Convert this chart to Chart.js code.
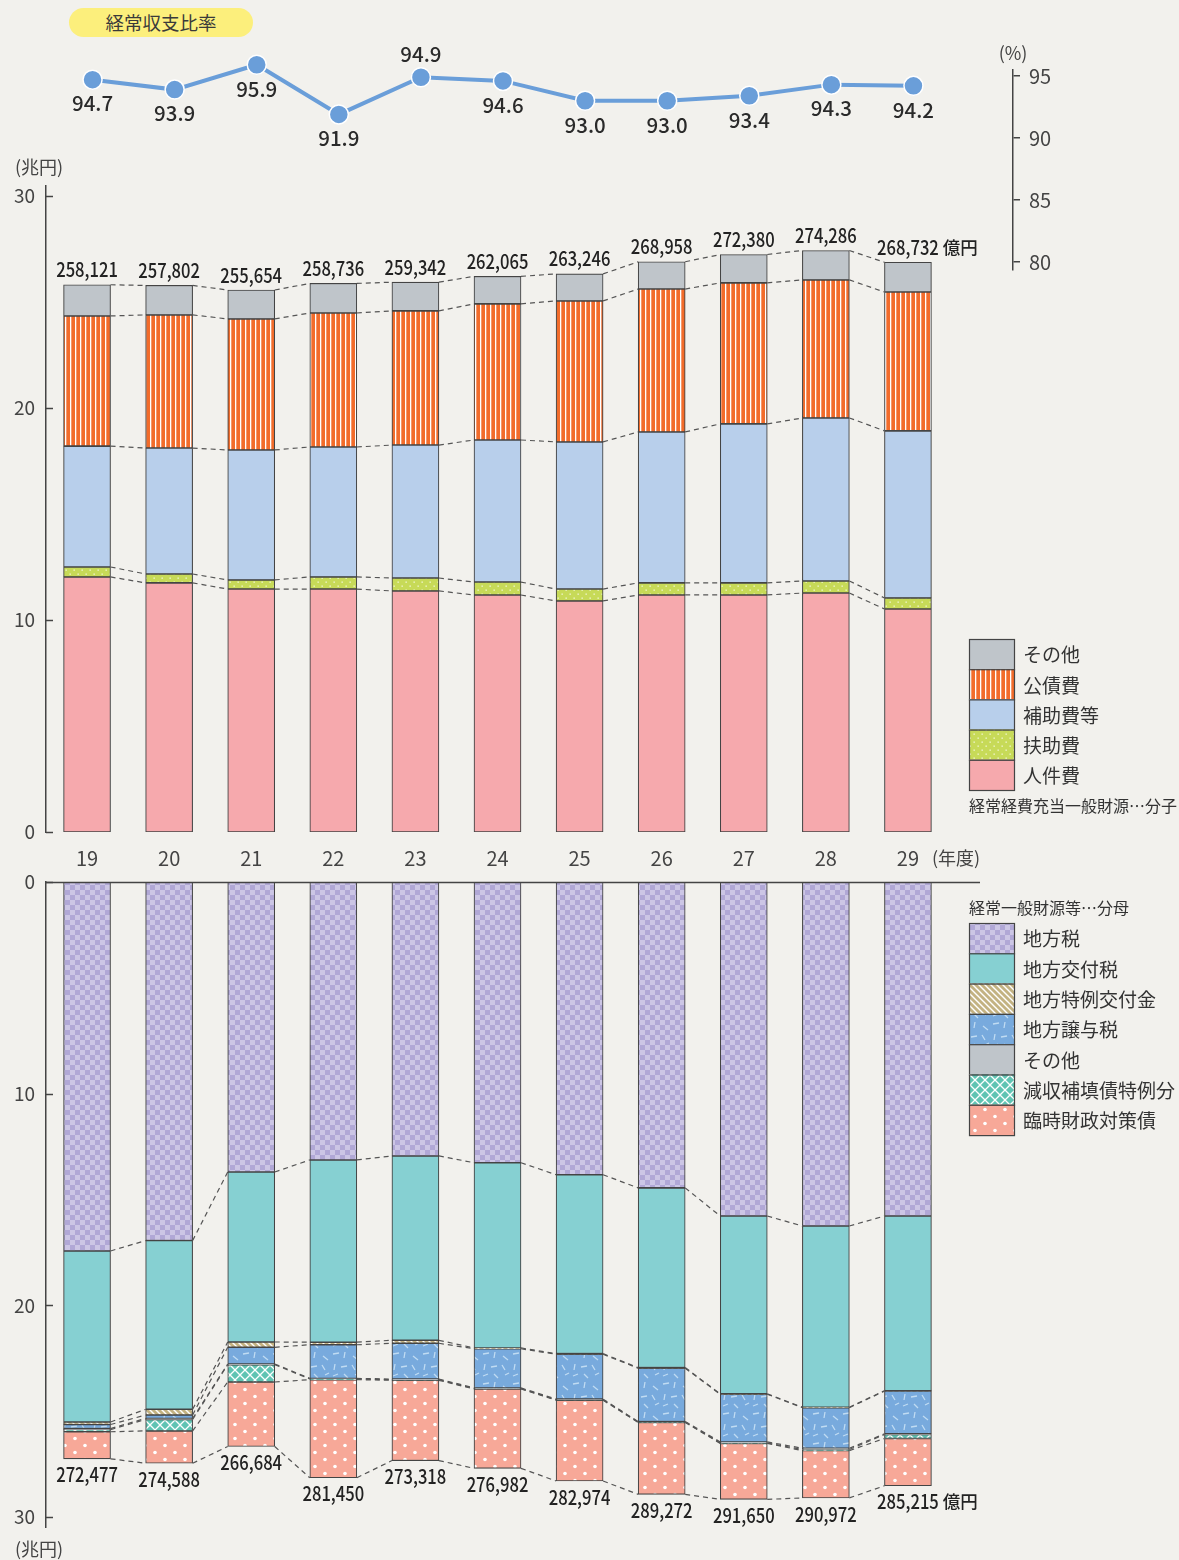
<!DOCTYPE html>
<html lang="ja">
<head>
<meta charset="utf-8">
<title>経常収支比率の推移</title>
<script src="https://cdn.jsdelivr.net/npm/chart.js@4.4.1/dist/chart.umd.min.js"></script>
<style>
  html, body { margin: 0; padding: 0; background: #f2f1ed; }
  #wrap { position: relative; width: 1179px; height: 1560px; font-family: "Noto Sans CJK JP", "Noto Sans", sans-serif; }
  canvas { position: absolute; left: 0; top: 0; }
  .pill { position: absolute; left: 69px; top: 8px; width: 184px; height: 29px; border-radius: 15px;
          background: #fcef7c; color: #3a3a3a; font-size: 18.5px; line-height: 29px; text-align: center; }
</style>
</head>
<body>
<div id="wrap">
  <div class="pill">経常収支比率</div>
  <canvas id="denChart" width="1179" height="1560"></canvas>
  <canvas id="numChart" width="1179" height="1560"></canvas>
  <canvas id="ratioChart" width="1179" height="1560"></canvas>
</div>
<script>
const FONT = '"Noto Sans CJK JP", "Noto Sans", sans-serif';

const years = ["19", "20", "21", "22", "23", "24", "25", "26", "27", "28", "29"];

// 経常収支比率 (%)
const ratio = [94.7, 93.9, 95.9, 91.9, 94.9, 94.6, 93.0, 93.0, 93.4, 94.3, 94.2];
const ratioTicks = [80, 85, 90, 95];
const ratioLabelAbove = [4];

// 分子: 経常経費充当一般財源 (兆円)
const jinkenhi = [12.03, 11.75, 11.46, 11.46, 11.37, 11.18, 10.90, 11.18, 11.18, 11.27, 10.52];
const fujohi = [0.47, 0.42, 0.43, 0.57, 0.61, 0.61, 0.56, 0.57, 0.57, 0.57, 0.52];
const hojohi = [5.70, 5.94, 6.13, 6.13, 6.27, 6.70, 6.94, 7.12, 7.50, 7.69, 7.88];
const kosaihi = [6.14, 6.28, 6.18, 6.32, 6.33, 6.42, 6.65, 6.74, 6.65, 6.51, 6.55];
const sonotaNum = [1.472, 1.390, 1.365, 1.394, 1.354, 1.297, 1.275, 1.286, 1.338, 1.389, 1.403];
const numTotal = [258121, 257802, 255654, 258736, 259342, 262065, 263246, 268958, 272380, 274286, 268732];

// 分母: 経常一般財源等 (兆円)
const chihozei = [17.43, 16.94, 13.70, 13.13, 12.94, 13.26, 13.83, 14.45, 15.78, 16.25, 15.78];
const kofuzei = [8.08, 7.97, 8.03, 8.61, 8.71, 8.75, 8.45, 8.49, 8.40, 8.56, 8.25];
const tokureiKofukin = [0.12, 0.27, 0.25, 0.12, 0.14, 0.04, 0.03, 0.03, 0.02, 0.02, 0.02];
const joyozei = [0.19, 0.16, 0.79, 1.59, 1.69, 1.85, 2.12, 2.52, 2.25, 1.92, 2.02];
const sonotaDen = [0.05, 0.05, 0.03, 0.03, 0.03, 0.03, 0.03, 0.02, 0.05, 0.06, 0.03];
const genshu = [0.10, 0.54, 0.82, 0.03, 0.03, 0.02, 0.02, 0.02, 0.02, 0.05, 0.19];
const rinji = [1.278, 1.529, 3.048, 4.635, 3.792, 3.748, 3.817, 3.397, 2.645, 2.237, 2.232];
const denTotal = [272477, 274588, 266684, 281450, 273318, 276982, 282974, 289272, 291650, 290972, 285215];

const yenTicks = [0, 10, 20, 30];

Chart.defaults.font.family = FONT;
Chart.defaults.color = '#444';

// ---- fill patterns ----
function makePattern(w, h, base, draw) {
  const c = document.createElement('canvas');
  c.width = w; c.height = h;
  const g = c.getContext('2d');
  g.fillStyle = base;
  g.fillRect(0, 0, w, h);
  draw(g, w, h);
  return g.createPattern(c, 'repeat');
}

const patSmallDots = makePattern(8, 8, '#c7da58', g => {
  g.fillStyle = 'rgba(255,255,255,0.8)';
  g.fillRect(1.5, 1.5, 1.3, 1.3);
  g.fillRect(5.5, 5.5, 1.3, 1.3);
});
const patVStripes = makePattern(5, 4, '#f26c2b', g => {
  g.fillStyle = '#ffffff';
  g.fillRect(0, 0, 1.3, 4);
});
const patChecker = makePattern(10, 10, '#b1a8d6', g => {
  g.fillStyle = '#ccc6e5';
  g.fillRect(0, 0, 5, 5);
  g.fillRect(5, 5, 5, 5);
});
const patDiag = makePattern(6, 6, '#c3b282', g => {
  g.strokeStyle = '#ffffff';
  g.lineWidth = 1.4;
  g.beginPath();
  g.moveTo(-1, -1); g.lineTo(7, 7);
  g.moveTo(-4, 2); g.lineTo(2, 8);
  g.moveTo(4, -2); g.lineTo(8, 2);
  g.stroke();
});
const patDashes = makePattern(30, 30, '#78aadd', g => {
  g.strokeStyle = 'rgba(205,228,246,0.85)';
  g.lineWidth = 1.3;
  const segs = [[3, 4, 9, 3], [15, 2, 14, 8], [23, 6, 28, 10], [5, 14, 4, 20], [11, 17, 17, 16],
                [22, 15, 25, 20], [3, 26, 8, 24], [14, 24, 18, 28], [25, 25, 29, 23]];
  g.beginPath();
  segs.forEach(s => { g.moveTo(s[0], s[1]); g.lineTo(s[2], s[3]); });
  g.stroke();
});
const patLattice = makePattern(10, 10, '#60c4b3', g => {
  g.strokeStyle = '#ffffff';
  g.lineWidth = 1.3;
  g.beginPath();
  g.moveTo(0, 5); g.lineTo(5, 0); g.lineTo(10, 5); g.lineTo(5, 10); g.closePath();
  g.stroke();
});
const patBigDots = makePattern(20, 14, '#f7a898', g => {
  g.fillStyle = '#ffffff';
  [[5, 3.5], [15, 10.5]].forEach(p => { g.beginPath(); g.arc(p[0], p[1], 1.8, 0, Math.PI * 2); g.fill(); });
});

// ---- shared plugins ----
const innerTicks = {
  id: 'innerTicks',
  afterDraw(chart) {
    const s = chart.scales.y, ctx = chart.ctx;
    ctx.save();
    ctx.strokeStyle = '#444';
    ctx.lineWidth = 1.5;
    s.ticks.forEach(t => {
      const py = Math.round(s.getPixelForValue(t.value)) + 0.5;
      ctx.beginPath();
      ctx.moveTo(s.right, py);
      ctx.lineTo(s.right + 7, py);
      ctx.stroke();
    });
    ctx.restore();
  }
};

const connectors = {
  id: 'connectors',
  afterDatasetsDraw(chart) {
    const ctx = chart.ctx, ys = chart.scales.y;
    const n = chart.data.labels.length;
    const sums = new Array(n).fill(0);
    ctx.save();
    ctx.setLineDash([5, 4]);
    ctx.strokeStyle = '#555';
    ctx.lineWidth = 1.2;
    chart.data.datasets.forEach((ds, k) => {
      const meta = chart.getDatasetMeta(k);
      ds.data.forEach((v, i) => { sums[i] += v; });
      for (let i = 0; i < n - 1; i++) {
        const a = meta.data[i], b = meta.data[i + 1];
        ctx.beginPath();
        ctx.moveTo(a.x + a.width / 2, ys.getPixelForValue(sums[i]));
        ctx.lineTo(b.x - b.width / 2, ys.getPixelForValue(sums[i + 1]));
        ctx.stroke();
      }
    });
    ctx.restore();
  }
};

function drawNumber(ctx, text, x, y) {
  ctx.save();
  ctx.translate(x, y);
  ctx.scale(0.83, 1);
  ctx.fillText(text, 0, 0);
  ctx.restore();
}

function totalLabels(totals, offset) {
  return {
    id: 'totalLabels',
    afterDatasetsDraw(chart) {
      const ctx = chart.ctx, ys = chart.scales.y;
      const meta = chart.getDatasetMeta(0);
      ctx.save();
      ctx.fillStyle = '#222';
      ctx.textAlign = 'center';
      ctx.textBaseline = 'middle';
      totals.forEach((t, i) => {
        let sum = 0;
        chart.data.datasets.forEach(ds => { sum += ds.data[i]; });
        const x = meta.data[i].x;
        const y = ys.getPixelForValue(sum) + offset;
        const txt = t.toLocaleString('en-US');
        ctx.font = '500 20px ' + FONT;
        drawNumber(ctx, txt, x, y);
        if (i === totals.length - 1) {
          const w = ctx.measureText(txt).width * 0.83;
          ctx.font = '500 17.5px ' + FONT;
          ctx.textAlign = 'left';
          ctx.fillText('億円', x + w / 2 + 4, y);
          ctx.textAlign = 'center';
        }
      });
      ctx.restore();
    }
  };
}

function sideLegend(opts) {
  return {
    id: 'sideLegend',
    afterDraw(chart) {
      const ctx = chart.ctx;
      const list = opts.reverse ? [...chart.data.datasets].reverse() : chart.data.datasets;
      ctx.save();
      list.forEach((ds, j) => {
        const y = opts.top + j * opts.row;
        ctx.fillStyle = ds.backgroundColor;
        ctx.fillRect(opts.left, y, 45, opts.row);
        ctx.strokeStyle = '#444';
        ctx.lineWidth = 1.2;
        ctx.strokeRect(opts.left + 0.5, y + 0.5, 45, opts.row);
        ctx.fillStyle = '#333';
        ctx.font = '19px ' + FONT;
        ctx.textAlign = 'left';
        ctx.textBaseline = 'middle';
        ctx.fillText(ds.label, opts.left + 54, y + opts.row / 2 + 1);
      });
      ctx.font = '16px ' + FONT;
      ctx.fillStyle = '#333';
      ctx.textBaseline = 'middle';
      ctx.fillText(opts.caption, opts.left, opts.captionY);
      ctx.restore();
    }
  };
}

function unitLabel(text, x, y) {
  return {
    id: 'unitLabel',
    afterDraw(chart) {
      const ctx = chart.ctx;
      ctx.save();
      ctx.fillStyle = '#444';
      ctx.font = '18px ' + FONT;
      ctx.textAlign = 'left';
      ctx.textBaseline = 'middle';
      ctx.fillText(text, x, y);
      ctx.restore();
    }
  };
}

const barDefaults = { borderColor: '#444', borderWidth: 1.1, borderSkipped: false, barThickness: 47 };

// ---- 分子 ----
const yearSuffix = {
  id: 'yearSuffix',
  afterDraw(chart) {
    const xs = chart.scales.x, ctx = chart.ctx;
    const lastX = xs.getPixelForTick(years.length - 1);
    ctx.save();
    ctx.fillStyle = '#444';
    ctx.font = '18px ' + FONT;
    ctx.textAlign = 'left';
    ctx.textBaseline = 'middle';
    ctx.fillText('(年度)', lastX + 24, 858);
    ctx.restore();
  }
};

new Chart(document.getElementById('numChart'), {
  type: 'bar',
  data: {
    labels: years,
    datasets: [
      { label: '人件費', data: jinkenhi, backgroundColor: '#f6a9ad', ...barDefaults },
      { label: '扶助費', data: fujohi, backgroundColor: patSmallDots, ...barDefaults },
      { label: '補助費等', data: hojohi, backgroundColor: '#b8cfeb', ...barDefaults },
      { label: '公債費', data: kosaihi, backgroundColor: patVStripes, ...barDefaults },
      { label: 'その他', data: sonotaNum, backgroundColor: '#bfc5ca', ...barDefaults }
    ]
  },
  options: {
    responsive: false,
    animation: false,
    layout: { padding: { left: 0, top: 186, right: 230, bottom: 688 } },
    plugins: { legend: { display: false }, tooltip: { enabled: false } },
    scales: {
      x: {
        stacked: true,
        grid: { display: false, drawTicks: false },
        border: { display: false },
        ticks: { color: '#444', font: { size: 20 }, padding: 14 },
        afterFit: s => { s.height = 40; }
      },
      y: {
        stacked: true,
        min: 0,
        max: 30.47,
        afterBuildTicks: s => { s.ticks = yenTicks.map(v => ({ value: v })); },
        afterFit: s => { s.width = 46; },
        grid: { display: false, drawTicks: false },
        border: { color: '#444', width: 1.5 },
        ticks: { color: '#444', font: { size: 19 }, padding: 11 }
      }
    }
  },
  plugins: [innerTicks, connectors, totalLabels(numTotal, -15), yearSuffix,
            unitLabel('(兆円)', 15, 167),
            sideLegend({ left: 969, top: 639, row: 30.2, reverse: true, caption: '経常経費充当一般財源…分子', captionY: 806 })]
});

// ---- 分母 ----
const zeroLine = {
  id: 'zeroLine',
  afterDraw(chart) {
    const ys = chart.scales.y, ctx = chart.ctx;
    const py = Math.round(ys.getPixelForValue(0)) + 0.5;
    ctx.save();
    ctx.strokeStyle = '#444';
    ctx.lineWidth = 1.3;
    ctx.beginPath();
    ctx.moveTo(chart.chartArea.left, py);
    ctx.lineTo(980, py);
    ctx.stroke();
    ctx.restore();
  }
};

new Chart(document.getElementById('denChart'), {
  type: 'bar',
  data: {
    labels: years,
    datasets: [
      { label: '地方税', data: chihozei, backgroundColor: patChecker, ...barDefaults },
      { label: '地方交付税', data: kofuzei, backgroundColor: '#86d0d2', ...barDefaults },
      { label: '地方特例交付金', data: tokureiKofukin, backgroundColor: patDiag, ...barDefaults },
      { label: '地方譲与税', data: joyozei, backgroundColor: patDashes, ...barDefaults },
      { label: 'その他', data: sonotaDen, backgroundColor: '#bfc5ca', ...barDefaults },
      { label: '減収補填債特例分', data: genshu, backgroundColor: patLattice, ...barDefaults },
      { label: '臨時財政対策債', data: rinji, backgroundColor: patBigDots, ...barDefaults }
    ]
  },
  options: {
    responsive: false,
    animation: false,
    layout: { padding: { left: 0, top: 882, right: 230, bottom: 33 } },
    plugins: { legend: { display: false }, tooltip: { enabled: false } },
    scales: {
      x: { stacked: true, display: false },
      y: {
        stacked: true,
        reverse: true,
        min: 0,
        max: 30.47,
        afterBuildTicks: s => { s.ticks = yenTicks.map(v => ({ value: v })); },
        afterFit: s => { s.width = 46; },
        grid: { display: false, drawTicks: false },
        border: { color: '#444', width: 1.5 },
        ticks: { color: '#444', font: { size: 19 }, padding: 11 }
      }
    }
  },
  plugins: [innerTicks, connectors, zeroLine, totalLabels(denTotal, 16),
            unitLabel('(兆円)', 15, 1549),
            sideLegend({ left: 969, top: 923, row: 30.3, reverse: false, caption: '経常一般財源等…分母', captionY: 908 })]
});

// ---- 経常収支比率 ----
// markers sit slightly right of the bar centres
const catWidth = (949 - 46) / years.length;
const ratioXMin = -0.5 - 5.5 / catWidth;
const ratioXMax = ratioXMin + (1013 - 46) / catWidth;

const ratioLabels = {
  id: 'ratioLabels',
  afterDatasetsDraw(chart) {
    const ctx = chart.ctx, meta = chart.getDatasetMeta(0);
    ctx.save();
    ctx.fillStyle = '#2a2a2a';
    ctx.font = '500 20.5px ' + FONT;
    ctx.textAlign = 'center';
    ctx.textBaseline = 'middle';
    ratio.forEach((v, i) => {
      const p = meta.data[i];
      const dy = ratioLabelAbove.includes(i) ? -23 : 24;
      ctx.fillText(v.toFixed(1), p.x, p.y + dy);
    });
    ctx.font = '18px ' + FONT;
    ctx.fillStyle = '#444';
    ctx.fillText('(%)', chart.chartArea.right, 53);
    ctx.restore();
  }
};

new Chart(document.getElementById('ratioChart'), {
  type: 'line',
  data: {
    datasets: [{
      data: ratio.map((v, i) => ({ x: i, y: v })),
      borderColor: '#6a9ed9',
      borderWidth: 4,
      pointRadius: 9.5,
      pointBackgroundColor: '#6a9ed9',
      pointBorderColor: '#ffffff',
      pointBorderWidth: 1.5,
      tension: 0,
      clip: false
    }]
  },
  options: {
    responsive: false,
    animation: false,
    layout: { padding: { left: 46, top: 70, right: 0, bottom: 1290 } },
    plugins: { legend: { display: false }, tooltip: { enabled: false } },
    scales: {
      x: { type: 'linear', display: false, min: ratioXMin, max: ratioXMax },
      y: {
        position: 'right',
        min: 79.35,
        max: 95.48,
        afterBuildTicks: s => { s.ticks = ratioTicks.map(v => ({ value: v })); },
        afterFit: s => { s.width = 166; },
        grid: { drawOnChartArea: false, tickLength: 7, color: '#444', lineWidth: 1.5 },
        border: { color: '#444', width: 1.5 },
        ticks: { color: '#444', font: { size: 20 }, padding: 9 }
      }
    }
  },
  plugins: [ratioLabels]
});
</script>
</body>
</html>
